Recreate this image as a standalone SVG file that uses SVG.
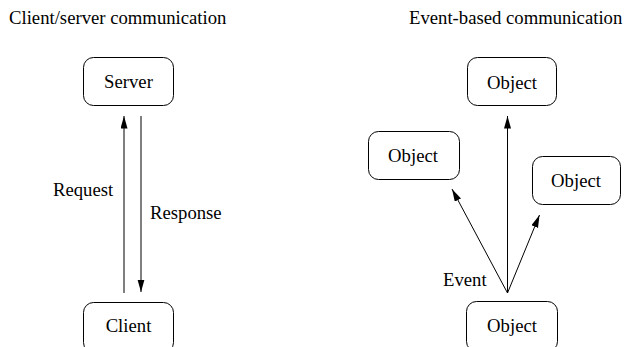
<svg xmlns="http://www.w3.org/2000/svg" width="625" height="347" viewBox="0 0 625 347">
  <style>
    .box { fill: #ffffff; stroke: #000000; stroke-width: 1; }
    .lbl { font-family: 'Liberation Serif', 'Times New Roman', Times, 'DejaVu Serif', serif; font-size: 18.7px; fill: #000000; }
    .mid { text-anchor: middle; }
    .edge { stroke: #000000; stroke-width: 1; fill: none; marker-end: url(#arrow); }
  </style>
  <defs>
    <marker id="arrow" markerUnits="userSpaceOnUse" markerWidth="13" markerHeight="8" refX="12.5" refY="3.5" orient="auto">
      <path d="M0,0 L12.5,3.5 L0,7 z" fill="#000000"/>
    </marker>
  </defs>

  <rect width="625" height="347" fill="#ffffff"/>

  <!-- section titles -->
  <text class="lbl" x="9" y="24" font-family="'Liberation Serif', 'Times New Roman', serif">Client/server communication</text>
  <text class="lbl" x="409" y="24" font-family="'Liberation Serif', 'Times New Roman', serif">Event-based communication</text>

  <!-- client/server side -->
  <g id="server">
    <rect class="box" x="83.5" y="57.5" width="90" height="48" rx="10" ry="10"/>
    <text class="lbl mid" x="128.5" y="88">Server</text>
  </g>
  <g id="client">
    <rect class="box" x="83.5" y="302.5" width="90" height="50" rx="10" ry="10"/>
    <text class="lbl mid" x="128.5" y="332">Client</text>
  </g>

  <!-- event-based side -->
  <g id="object-top">
    <rect class="box" x="467.5" y="57.5" width="89" height="48" rx="10" ry="10"/>
    <text class="lbl mid" x="512" y="89">Object</text>
  </g>
  <g id="object-left">
    <rect class="box" x="368.5" y="131.5" width="91" height="48" rx="10" ry="10"/>
    <text class="lbl mid" x="413" y="162">Object</text>
  </g>
  <g id="object-right">
    <rect class="box" x="532.5" y="156.5" width="88" height="48" rx="10" ry="10"/>
    <text class="lbl mid" x="576" y="187">Object</text>
  </g>
  <g id="object-bottom">
    <rect class="box" x="466.5" y="301.5" width="91" height="50" rx="10" ry="10"/>
    <text class="lbl mid" x="512" y="332">Object</text>
  </g>

  <!-- connectors -->
  <g id="connectors">
    <line class="edge" x1="124" y1="293" x2="124" y2="116"/>
    <line class="edge" x1="141" y1="116" x2="141" y2="292"/>
    <line class="edge" x1="507.5" y1="293" x2="507.5" y2="116"/>
    <line class="edge" x1="507.5" y1="293" x2="452" y2="189"/>
    <line class="edge" x1="507.5" y1="293" x2="539.5" y2="215"/>
  </g>

  <!-- connector labels -->
  <text class="lbl" x="53" y="196">Request</text>
  <text class="lbl" x="150" y="219">Response</text>
  <text class="lbl" x="443" y="286">Event</text>
</svg>
